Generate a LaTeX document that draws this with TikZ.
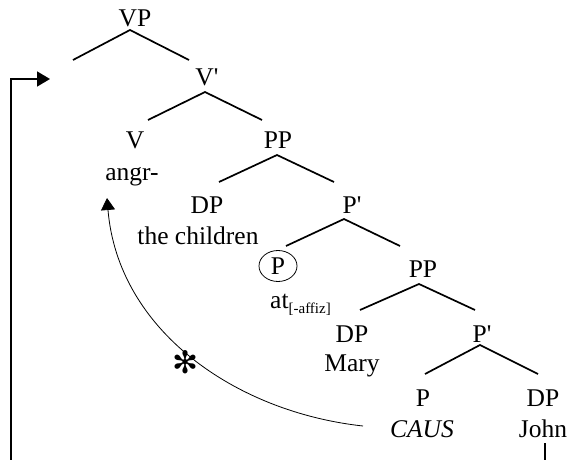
\documentclass[tikz,border=0pt]{standalone}
\usepackage{fontspec}
\setmainfont{Liberation Serif}[Ligatures=TeXOff]
\newfontfamily\starfont{DejaVu Sans}
\usetikzlibrary{arrows.meta,shapes.geometric}

\begin{document}
\begin{tikzpicture}[x=1pt, y=-1pt]
\tikzset{lbl/.style={anchor=base, inner sep=0pt, font=\fontsize{25.5}{30}\selectfont},
  branch/.style={line width=1.7pt},
  movearrow/.style={line width=0.8pt, -{Triangle[length=12pt, width=14pt]}}}
\useasboundingbox (0,0) rectangle (568,460);
% labels
\node[lbl] (VP) at (135,27) {VP};
\node[lbl] (Vbar) at (207,85) {V'};
\node[lbl] (V) at (135,148) {V};
\node[lbl] (angr) at (132,180) {angr-};
\node[lbl] (PPa) at (278,148) {PP};
\node[lbl] (DPa) at (207,213) {DP};
\node[lbl] (children) at (198,244) {the children};
\node[lbl] (Pbara) at (352,213) {P'};
\node[draw, ellipse, line width=0.8pt, inner sep=0pt, minimum width=38pt, minimum height=31pt,
  font=\fontsize{25.5}{30}\selectfont] (Pa) at (278,266) {P};
\node[lbl, anchor=base west] (at) at (270,308) {at{\fontsize{15}{15}\selectfont\raisebox{-5pt}{[-affiz]}}};
\node[lbl] (PPb) at (423,277) {PP};
\node[lbl] (DPb) at (352,342) {DP};
\node[lbl] (Mary) at (352,371) {Mary};
\node[lbl] (Pbarb) at (482,342) {P'};
\node[lbl] (Pb) at (423,406) {P};
\node[lbl] (CAUS) at (422,437) {\itshape CAUS};
\node[lbl] (DPc) at (543,406) {DP};
\node[lbl] (John) at (543,437) {John};
\node[inner sep=0pt, font=\fontsize{31}{31}\selectfont\starfont] (star) at (185,362) {✻};
% branch points
\coordinate (VP-f) at (130,30);
\coordinate (VP-l) at (73,60);
\coordinate (VP-r) at (189,60);
\coordinate (Vbar-f) at (205,92);
\coordinate (Vbar-l) at (148,120);
\coordinate (Vbar-r) at (262,120);
\coordinate (PPa-f) at (277,155);
\coordinate (PPa-l) at (219,182);
\coordinate (PPa-r) at (334,182);
\coordinate (Pbara-f) at (344,219);
\coordinate (Pbara-l) at (286,246);
\coordinate (Pbara-r) at (400,246);
\coordinate (PPb-f) at (419,284);
\coordinate (PPb-l) at (360,310);
\coordinate (PPb-r) at (475,310);
\coordinate (Pbarb-f) at (480,345);
\coordinate (Pbarb-l) at (425,374);
\coordinate (Pbarb-r) at (538,374);
\coordinate (John-t) at (545,443);
\coordinate (John-b) at (545,460);
\coordinate (gap) at (50,79);
\coordinate (corner) at (11,79);
\coordinate (bottom) at (11,460);
\coordinate (trace) at (363,426);
\coordinate (landing) at (107,198);
% tree
\draw[branch] (VP-l) -- (VP-f) -- (VP-r);
\draw[branch] (Vbar-l) -- (Vbar-f) -- (Vbar-r);
\draw[branch] (PPa-l) -- (PPa-f) -- (PPa-r);
\draw[branch] (Pbara-l) -- (Pbara-f) -- (Pbara-r);
\draw[branch] (PPb-l) -- (PPb-f) -- (PPb-r);
\draw[branch] (Pbarb-l) -- (Pbarb-f) -- (Pbarb-r);
\draw[branch] (John-t) -- (John-b);
% movement
\draw[branch, -{Triangle[length=13pt, width=15pt]}] (bottom) -- (corner) -- (gap);
\draw[movearrow] (trace) .. controls (235,412) and (118,330) .. (landing);
\end{tikzpicture}
\end{document}
